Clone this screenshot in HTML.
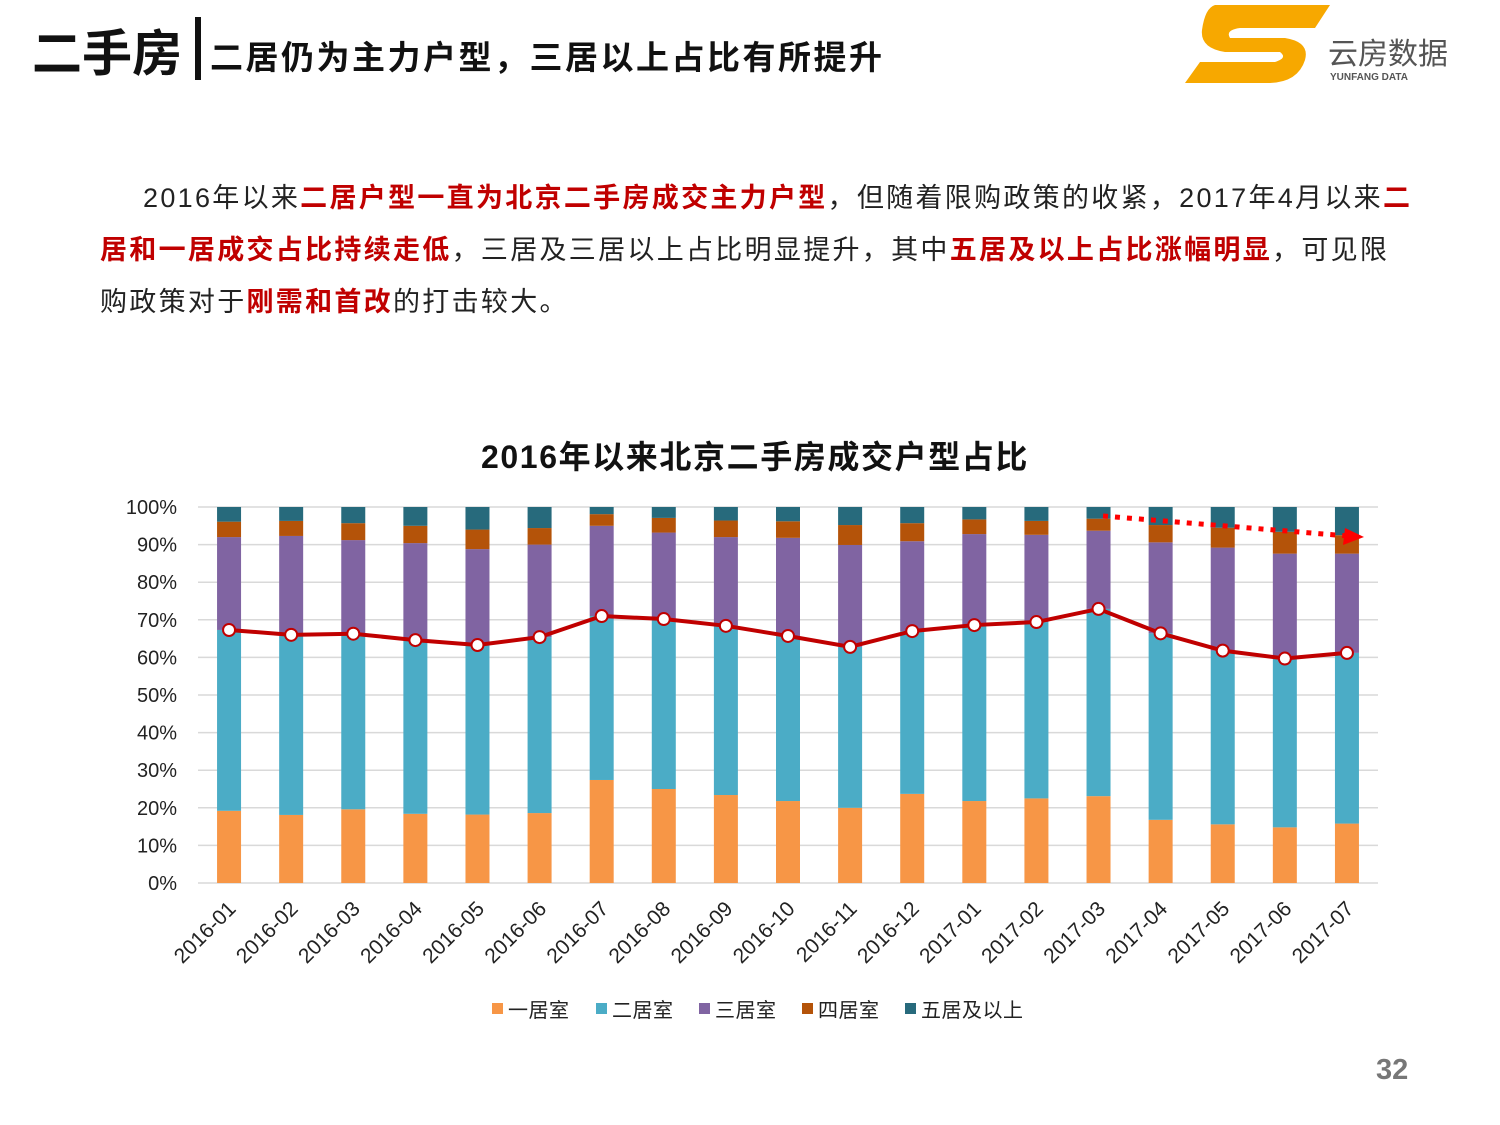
<!DOCTYPE html>
<html><head><meta charset="utf-8">
<style>
body{margin:0;width:1500px;height:1125px;background:#fff;position:relative;overflow:hidden;font-family:"Liberation Sans","Noto Sans CJK SC",sans-serif;}
.abs{position:absolute;white-space:nowrap;}
.r{color:#c00000;font-weight:bold;}
.p{font-size:27px;color:#222;letter-spacing:2.3px;}
</style></head><body>
<div class="abs" style="left:32px;top:14px;font-size:50px;font-weight:bold;color:#111;">二手房</div>
<div class="abs" style="left:195px;top:17px;width:6px;height:63px;background:#111;"></div>
<div class="abs" style="left:210px;top:31px;font-size:33px;font-weight:bold;color:#111;letter-spacing:2.5px;">二居仍为主力户型，三居以上占比有所提升</div>
<svg class="abs" style="left:1180px;top:0px" width="280" height="90">
<path d="M35 5 L150 5 L135 28 L60 28 Q45 30 50 38 L105 38 Q130 42 125 60 Q118 82 90 83 L5 83 L20 62 L95 62 Q108 58 100 52 L45 52 Q20 48 22 30 Q25 8 35 5Z" fill="#f7a800"/>
<text x="148" y="64" font-size="30" fill="#555" font-family="Liberation Sans,Noto Sans CJK SC,sans-serif">云房数据</text>
<text x="150" y="80" font-size="10" fill="#555" font-weight="bold" font-family="Liberation Sans,sans-serif">YUNFANG DATA</text>
</svg>
<div class="abs p" style="left:143px;top:176px;">2016年以来<span class="r">二居户型一直为北京二手房成交主力户型</span>，但随着限购政策的收紧，2017年4月以来<span class="r">二</span></div>
<div class="abs p" style="left:100px;top:228px;"><span class="r">居和一居成交占比持续走低</span>，三居及三居以上占比明显提升，其中<span class="r">五居及以上占比涨幅明显</span>，可见限</div>
<div class="abs p" style="left:100px;top:280px;">购政策对于<span class="r">刚需和首改</span>的打击较大。</div>
<div class="abs" style="left:0;width:1510px;text-align:center;top:432px;font-size:32px;font-weight:bold;color:#111;letter-spacing:1.6px;">2016年以来北京二手房成交户型占比</div>
<svg id="chart" class="abs" style="left:0;top:0" width="1500" height="1125"></svg>
<div class="abs" style="left:1376px;top:1054px;font-size:29px;font-weight:bold;color:#777;">32</div>
<script>
const categories=["2016-01","2016-02","2016-03","2016-04","2016-05","2016-06","2016-07","2016-08","2016-09","2016-10","2016-11","2016-12","2017-01","2017-02","2017-03","2017-04","2017-05","2017-06","2017-07"];
const oneRoom=[19.2,18.1,19.6,18.4,18.2,18.6,27.4,25.0,23.4,21.8,20.0,23.7,21.8,22.5,23.1,16.8,15.6,14.8,15.8];
const twoRoom=[48.1,47.9,46.7,46.2,45.1,46.8,43.6,45.2,45.0,43.9,42.8,43.3,46.8,46.9,49.8,49.6,46.2,44.9,45.4];
const threeRoom=[24.7,26.3,24.9,25.8,25.5,24.6,24.0,23.0,23.6,26.1,27.1,23.9,24.2,23.2,20.8,24.2,27.4,27.9,26.4];
const fourRoom=[4.1,4.0,4.5,4.6,5.2,4.4,3.1,3.9,4.4,4.4,5.3,4.8,3.9,3.7,3.2,4.6,5.3,5.8,4.9];
const fivePlus=[3.9,3.7,4.3,5.0,6.0,5.6,1.9,2.9,3.6,3.8,4.8,4.3,3.3,3.7,3.1,4.8,5.5,6.6,7.5];
const lineVals=[67.3,66.0,66.3,64.6,63.3,65.4,71.0,70.2,68.4,65.7,62.8,67.0,68.6,69.4,72.9,66.4,61.8,59.7,61.2];
const yTicks=[0,10,20,30,40,50,60,70,80,90,100];
const seriesNames=["一居室","二居室","三居室","四居室","五居及以上"];
const colors=["#f79646","#4bacc6","#8064a2","#b45309","#276a7c"];
const series=[oneRoom,twoRoom,threeRoom,fourRoom,fivePlus];
const NS="http://www.w3.org/2000/svg";
const svg=document.getElementById('chart');
const X0=198,X1=1378,Y0=883,Y1=507;
const band=(X1-X0)/categories.length;
const xc=i=>X0+band*(i+0.5);
const y=v=>Y0-(v/100)*(Y0-Y1);
function mk(t,a){const e=document.createElementNS(NS,t);for(const k in a)e.setAttribute(k,a[k]);svg.appendChild(e);return e;}
yTicks.forEach(t=>{
 const g=mk('line',{x1:X0,x2:X1,y1:y(t),y2:y(t),stroke:'#d9d9d9','stroke-width':1.5});
 
 
 const tx=mk('text',{x:177,y:y(t)+7,'text-anchor':'end','font-size':20,fill:'#222'});
 tx.textContent=t+'%';
 
 
});
categories.forEach((c,i)=>{
 let cum=0;
 series.forEach((s,k)=>{
  const r=mk('rect',{x:xc(i)-12,y:y(cum+s[i]),width:24,height:y(cum)-y(cum+s[i]),fill:colors[k]});
  
  
  cum+=s[i];
 });
 const tx=mk('text',{x:0,y:0,'text-anchor':'end','font-size':21,fill:'#222',transform:`translate(${xc(i)+8},${910}) rotate(-45)`});
 tx.textContent=c;
 
 
});
const pl=mk('polyline',{points:lineVals.map((v,i)=>xc(i)+','+y(v)).join(' '),fill:'none',stroke:'#c00000','stroke-width':4});


lineVals.forEach((v,i)=>{
 const c=mk('circle',{cx:xc(i),cy:y(v),r:6,fill:'#fff',stroke:'#c00000','stroke-width':2});
 
 
});
const ar=mk('line',{x1:1103,y1:516,x2:1348,y2:536,stroke:'#ff0000','stroke-width':5,'stroke-dasharray':'5 7'});


const ah=mk('polygon',{points:'1364,537 1345,528 1343,545',fill:'#ff0000'});


const lx=[492,596,699,802,905];
seriesNames.forEach((n,k)=>{
 const r=mk('rect',{x:lx[k],y:1003,width:11,height:11,fill:colors[k]});
 
 
 const t=mk('text',{x:lx[k]+16,y:1017,'font-size':20,fill:'#222','letter-spacing':0.5});
 t.textContent=n;
 
 
});
</script>
</body></html>
